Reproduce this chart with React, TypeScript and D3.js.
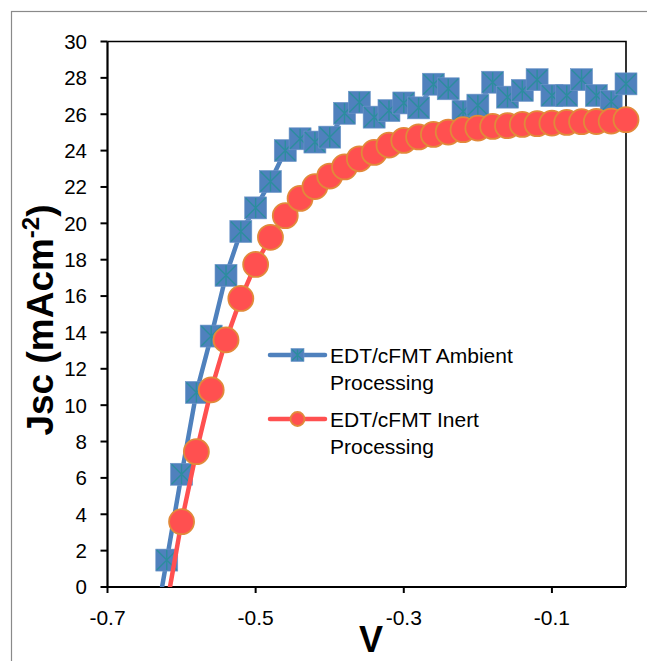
import React from 'react';
import * as d3 from 'd3';

// EDT/cFMT Ambient Processing (first point is below 0 and only shows as the clipped line)
const ambientV = [
  -0.64, -0.62, -0.6, -0.58, -0.56, -0.54, -0.52, -0.5, -0.48, -0.46, -0.44, -0.42, -0.4,
  -0.38, -0.36, -0.34, -0.32, -0.3, -0.28, -0.26, -0.24, -0.22, -0.2, -0.18, -0.16, -0.14,
  -0.12, -0.1, -0.08, -0.06, -0.04, -0.02, 0,
];
const ambientJ = [
  -3.2, 1.48, 6.2, 10.7, 13.8, 17.14, 19.55, 20.85, 22.3, 24.0, 24.65, 24.47, 24.74, 26.05,
  26.66, 25.84, 26.2, 26.62, 26.35, 27.65, 27.4, 26.15, 26.5, 27.76, 26.94, 27.31, 27.9,
  27.03, 27.03, 27.9, 27.03, 26.7, 27.67,
];

// EDT/cFMT Inert Processing
const inertV = [
  -0.62, -0.6, -0.58, -0.56, -0.54, -0.52, -0.5, -0.48, -0.46, -0.44, -0.42, -0.4, -0.38,
  -0.36, -0.34, -0.32, -0.3, -0.28, -0.26, -0.24, -0.22, -0.2, -0.18, -0.16, -0.14, -0.12,
  -0.1, -0.08, -0.06, -0.04, -0.02, 0,
];
const inertJ = [
  -1.0, 3.59, 7.44, 10.84, 13.59, 15.87, 17.74, 19.23, 20.42, 21.37, 22.02, 22.6, 23.1, 23.55,
  23.9, 24.3, 24.56, 24.75, 24.89, 25.02, 25.15, 25.24, 25.33, 25.37, 25.44, 25.48, 25.51,
  25.55, 25.59, 25.6, 25.62, 25.7,
];

const xTicks = [-0.7, -0.5, -0.3, -0.1];
const yTicks = [0, 2, 4, 6, 8, 10, 12, 14, 16, 18, 20, 22, 24, 26, 28, 30];

const BLUE = '#4F81BD';
const TEAL = '#2C8D9E';
const RED = '#FF5050';
const ORANGE = '#E2893A';

const left = 107.5;
const right = 626;
const top = 41.5;
const bottom = 587;

const Square = ({ x, y, s }: { x: number; y: number; s: number }) => {
  const h = s / 2;
  return (
    <g transform={`translate(${x},${y})`}>
      <rect x={-h} y={-h} width={s} height={s} fill={BLUE} stroke="#6f97c9" strokeWidth={0.6} />
      <path
        d={`M${-h + 1},${-h + 1}L${h - 1},${h - 1}M${-h + 1},${h - 1}L${h - 1},${-h + 1}M0,${-h + 1}L0,${h - 1}`}
        stroke={TEAL}
        strokeWidth={1.4}
      />
    </g>
  );
};

const Dot = ({ x, y, r }: { x: number; y: number; r: number }) => (
  <circle cx={x} cy={y} r={r} fill={RED} stroke={ORANGE} strokeWidth={1.8} />
);

export default function App() {
  const x = d3.scaleLinear().domain([-0.7, 0]).range([left, right]);
  const y = d3.scaleLinear().domain([0, 30]).range([bottom, top]);

  const line = d3
    .line<[number, number]>()
    .x((d) => x(d[0]))
    .y((d) => y(d[1]));

  const ambient = ambientV.map((v, i) => [v, ambientJ[i]] as [number, number]);
  const inert = inertV.map((v, i) => [v, inertJ[i]] as [number, number]);

  const font = 'Arial, "Liberation Sans", sans-serif';

  return (
    <div style={{ position: 'absolute', left: 0, top: 0 }}>
      <svg width={647} height={661} style={{ display: 'block', background: '#fff' }}>
        <defs>
          <clipPath id="plot">
            <rect x={left} y={top} width={right - left} height={bottom - top} />
          </clipPath>
        </defs>
        <rect x={11.5} y={11.5} width={700} height={700} fill="none" stroke="#8a8a8a" strokeWidth={1.2} />

        {/* frame */}
        <path d={`M${left},${top}H${right}V${bottom}`} fill="none" stroke="#000" strokeWidth={1.6} />
        <path d={`M${left},${top}V${bottom}H${right}`} fill="none" stroke="#000" strokeWidth={2.2} />

        {yTicks.map((t) => (
          <g key={'y' + t}>
            <line x1={left - 7} x2={left} y1={y(t)} y2={y(t)} stroke="#000" strokeWidth={2} />
            <text x={87} y={y(t)} dy="0.36em" textAnchor="end" fontFamily={font} fontSize={20.5}>
              {t}
            </text>
          </g>
        ))}
        {xTicks.map((t) => (
          <g key={'x' + t}>
            <line x1={x(t)} x2={x(t)} y1={bottom} y2={bottom + 6} stroke="#000" strokeWidth={2} />
            <text x={x(t)} y={625} textAnchor="middle" fontFamily={font} fontSize={21}>
              {t.toFixed(1)}
            </text>
          </g>
        ))}

        <text x={371} y={652} textAnchor="middle" fontFamily={font} fontSize={36} fontWeight="bold">
          V
        </text>
        <text
          transform={`translate(53,320) rotate(-90)`}
          textAnchor="middle"
          fontFamily={font}
          fontSize={37}
          fontWeight="bold"
        >
          Jsc (mAcm
          <tspan fontSize={24} dy={-14}>-2</tspan>
          <tspan dy={14}>)</tspan>
        </text>

        {/* ambient series */}
        <path d={line(ambient) ?? ''} fill="none" stroke={BLUE} strokeWidth={4.5} clipPath="url(#plot)" />
        {ambient
          .filter((d) => d[1] >= 0)
          .map((d, i) => (
            <Square key={'a' + i} x={x(d[0])} y={y(d[1])} s={22} />
          ))}

        {/* inert series */}
        <path d={line(inert) ?? ''} fill="none" stroke={RED} strokeWidth={4.5} clipPath="url(#plot)" />
        {inert
          .filter((d) => d[1] >= 0)
          .map((d, i) => (
            <Dot key={'b' + i} x={x(d[0])} y={y(d[1])} r={12.5} />
          ))}

        {/* legend */}
        <line x1={270} x2={325} y1={355} y2={355} stroke={BLUE} strokeWidth={4.5} strokeLinecap="round" />
        <Square x={297.5} y={355} s={13} />
        <text x={330} y={363} fontFamily={font} fontSize={21}>EDT/cFMT Ambient</text>
        <text x={330} y={390} fontFamily={font} fontSize={21}>Processing</text>

        <line x1={270} x2={325} y1={419} y2={419} stroke={RED} strokeWidth={4.5} strokeLinecap="round" />
        <Dot x={297.5} y={419} r={7} />
        <text x={330} y={427} fontFamily={font} fontSize={21}>EDT/cFMT Inert</text>
        <text x={330} y={454} fontFamily={font} fontSize={21}>Processing</text>
      </svg>
    </div>
  );
}
